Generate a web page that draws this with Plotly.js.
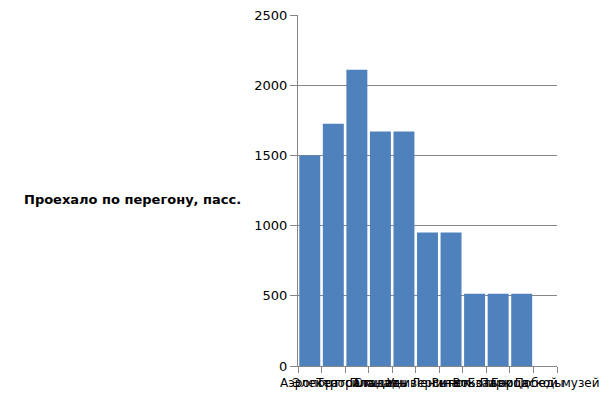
<!DOCTYPE html>
<html><head><meta charset="utf-8">
<script src="https://cdn.plot.ly/plotly-3.0.1.min.js"></script>
<style>html,body{margin:0;padding:0;background:#fff}#c{width:612px;height:399px}</style>
</head><body><div id="c"></div>
<script>
const categories = ["Аэропорт", "Электросила", "Театральная", "Стадион", "Площадь Ленина", "Университет", "Рынок", "Вокзал", "Больница", "Парк Победы", "Городской музей"];
const passengers = [1500, 1725, 2110, 1670, 1670, 950, 950, 515, 515, 515, null];
const yTicks = [0, 500, 1000, 1500, 2000, 2500];
const yTitle = "Проехало по перегону, пасс.";

Plotly.newPlot('c', [{
  type: 'bar', x: categories, y: passengers,
  marker: {color: '#4f81bd', line: {width: 0}}, hoverinfo: 'none'
}], {
  width: 612, height: 399,
  margin: {l: 298, r: 55, t: 15, b: 33},
  paper_bgcolor: '#fff', plot_bgcolor: '#fff',
  bargap: 0.11, showlegend: false,
  font: {family: 'DejaVu Sans', color: '#000'},
  xaxis: {
    type: 'category', tickangle: 0, tickson: 'boundaries',
    ticks: 'outside', ticklen: 6, tickcolor: '#868686',
    ticklabelstandoff: 6,
    showline: true, linecolor: '#868686', linewidth: 1,
    showgrid: false, tickfont: {size: 12, family: 'DejaVu Sans'},
    automargin: false, fixedrange: true
  },
  yaxis: {
    range: [0, 2500], tickvals: yTicks, ticktext: yTicks.map(String),
    ticks: 'outside', ticklen: 7, tickcolor: '#868686',
    showline: true, linecolor: '#868686', linewidth: 1,
    showgrid: true, gridcolor: '#868686', gridwidth: 1,
    zeroline: false, tickfont: {size: 13, family: 'DejaVu Sans'},
    automargin: false, fixedrange: true
  },
  annotations: [{
    text: '<b>' + yTitle + '</b>', xref: 'paper', yref: 'paper',
    x: -0.212, y: 0.475, xanchor: 'right', yanchor: 'middle',
    showarrow: false, font: {size: 13, family: 'DejaVu Sans', color: '#000'}
  }]
}, {displayModeBar: false, staticPlot: true});
</script></body></html>
